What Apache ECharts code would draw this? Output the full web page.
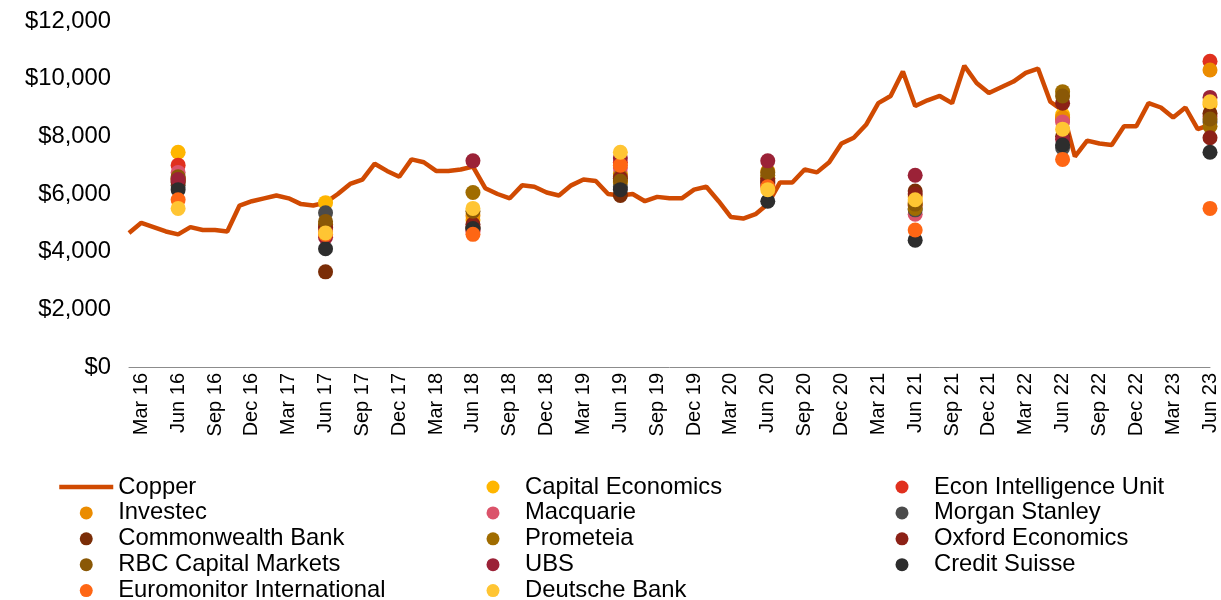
<!DOCTYPE html>
<html><head><meta charset="utf-8">
<script src="https://cdn.jsdelivr.net/npm/echarts@6/dist/echarts.min.js"></script>
<style>html,body{margin:0;padding:0;background:#fff}#c{width:1221px;height:600px}</style>
</head><body><div id="c"></div><script>
const months = ['Feb 16',
 'Mar 16','Apr 16','May 16','Jun 16','Jul 16','Aug 16','Sep 16','Oct 16','Nov 16','Dec 16',
 'Jan 17','Feb 17','Mar 17','Apr 17','May 17','Jun 17','Jul 17','Aug 17','Sep 17','Oct 17','Nov 17','Dec 17',
 'Jan 18','Feb 18','Mar 18','Apr 18','May 18','Jun 18','Jul 18','Aug 18','Sep 18','Oct 18','Nov 18','Dec 18',
 'Jan 19','Feb 19','Mar 19','Apr 19','May 19','Jun 19','Jul 19','Aug 19','Sep 19','Oct 19','Nov 19','Dec 19',
 'Jan 20','Feb 20','Mar 20','Apr 20','May 20','Jun 20','Jul 20','Aug 20','Sep 20','Oct 20','Nov 20','Dec 20',
 'Jan 21','Feb 21','Mar 21','Apr 21','May 21','Jun 21','Jul 21','Aug 21','Sep 21','Oct 21','Nov 21','Dec 21',
 'Jan 22','Feb 22','Mar 22','Apr 22','May 22','Jun 22','Jul 22','Aug 22','Sep 22','Oct 22','Nov 22','Dec 22',
 'Jan 23','Feb 23','Mar 23','Apr 23','May 23','Jun 23'];
const copper = [4650,
 5000,4850,4700,4600,4850,4750,4750,4700,5600,5750,
 5850,5950,5850,5650,5600,5700,6000,6350,6500,7050,6800,6600,
 7200,7100,6800,6800,6850,6950,6200,6000,5850,6300,6250,6050,
 5950,6300,6500,6450,6000,5950,6000,5750,5900,5850,5850,6150,
 6250,5750,5200,5150,5300,5650,6400,6400,6850,6750,7100,7750,
 7950,8400,9150,9400,10250,9050,9250,9400,9150,10450,9850,9500,
 9700,9900,10200,10350,9200,8900,7300,7850,7750,7700,8350,8350,
 9150,9000,8650,9000,8250,8400];
const forecastDates = ['Jun 16','Jun 17','Jun 18','Jun 19','Jun 20','Jun 21','Jun 22','Jun 23'];
const capitalEconomics = [7450,5700,5100,6400,6500,5900,8750,9100];
const econIntelligence = [7000,4700,4750,7100,6350,5600,8600,10600];
const investec        = [6500,4900,5250,6700,6800,5700,8650,10300];
const macquarie       = [6750,4750,4700,6900,6300,5300,8500,8700];
const morganStanley   = [6300,5350,4800,6250,6400,5450,7600,8500];
const commonwealth    = [6400,3300,4850,5950,6550,6100,8000,8800];
const prometeia       = [6550,4950,6050,6600,6650,5500,9550,8350];
const oxfordEconomics = [6450,4850,4950,6550,6450,6000,9150,7950];
const rbcCapital      = [6600,5050,5400,6450,6750,5650,9400,8600];
const ubs             = [6500,4500,7150,7250,7150,6650,7900,9350];
const creditSuisse    = [6150,4100,4800,6150,5750,4400,7700,7450];
const euromonitor     = [5800,4600,4600,7000,6250,4750,7200,5500];
const deutscheBank    = [5500,4650,5500,7450,6150,5800,8250,9200];

const forecasters = [
 ['Capital Economics', capitalEconomics, '#FFB600'],
 ['Econ Intelligence Unit', econIntelligence, '#E0301E'],
 ['Investec', investec, '#EB8C00'],
 ['Macquarie', macquarie, '#DB536A'],
 ['Morgan Stanley', morganStanley, '#4B4B4B'],
 ['Commonwealth Bank', commonwealth, '#7A2D07'],
 ['Prometeia', prometeia, '#A06C00'],
 ['Oxford Economics', oxfordEconomics, '#8C2116'],
 ['RBC Capital Markets', rbcCapital, '#8A5806'],
 ['UBS', ubs, '#9B2237'],
 ['Credit Suisse', creditSuisse, '#2D2D2D'],
 ['Euromonitor International', euromonitor, '#FE6614'],
 ['Deutsche Bank', deutscheBank, '#FFC533']
];

const FONT = 'Liberation Sans, Arial, sans-serif';
const series = [{
  name: 'Copper', type: 'line', data: copper, symbol: 'none', showSymbol: false, z: 2,
  lineStyle: {color: '#D04A02', width: 4.5}, itemStyle: {color: '#D04A02'}
}];
forecasters.forEach(f => {
  series.push({
    name: f[0], type: 'scatter', z: 3, symbolSize: 15,
    itemStyle: {color: f[2], opacity: 1},
    data: forecastDates.map((d, i) => [d, f[1][i]])
  });
});

const legendBase = {
  orient: 'vertical', itemWidth: 54, itemHeight: 13, itemGap: 1.9, padding: 0,
  textStyle: {fontFamily: FONT, fontSize: 23.8, color: '#000', lineHeight: 24},
  top: 475, height: 130, selectedMode: false,
  lineStyle: {width: 4.5}
};
const col = names => names.map(n => n === 'Copper'
  ? {name: n, itemStyle: {opacity: 0, borderWidth: 0}, lineStyle: {width: 4.5, color: '#D04A02', opacity: 1}}
  : {name: n, icon: 'circle'});

const chart = echarts.init(document.getElementById('c'), null, {renderer: 'canvas'});
chart.setOption({
  animation: false,
  backgroundColor: '#fff',
  grid: {left: 129, right: 11, top: 21, bottom: 233},
  xAxis: {
    type: 'category', data: months, boundaryGap: false,
    axisLine: {lineStyle: {color: '#8c8c8c', width: 1}},
    axisTick: {show: false},
    axisLabel: {interval: (idx) => (idx - 1) % 3 === 0, rotate: 90, fontFamily: FONT, fontSize: 20, color: '#000', margin: 6}
  },
  yAxis: {
    type: 'value', min: 0, max: 12000, interval: 2000,
    splitLine: {show: false}, axisLine: {show: false}, axisTick: {show: false},
    axisLabel: {fontFamily: FONT, fontSize: 23.8, color: '#000', margin: 18,
      formatter: v => '$' + v.toLocaleString('en-US')}
  },
  legend: [
    Object.assign({}, legendBase, {left: 57, data: col(['Copper','Investec','Commonwealth Bank','RBC Capital Markets','Euromonitor International'])}),
    Object.assign({}, legendBase, {left: 486.5, data: col(['Capital Economics','Macquarie','Prometeia','UBS','Deutsche Bank'])}),
    Object.assign({}, legendBase, {left: 895.5, data: col(['Econ Intelligence Unit','Morgan Stanley','Oxford Economics','Credit Suisse'])})
  ],
  series: series
});
</script></body></html>
